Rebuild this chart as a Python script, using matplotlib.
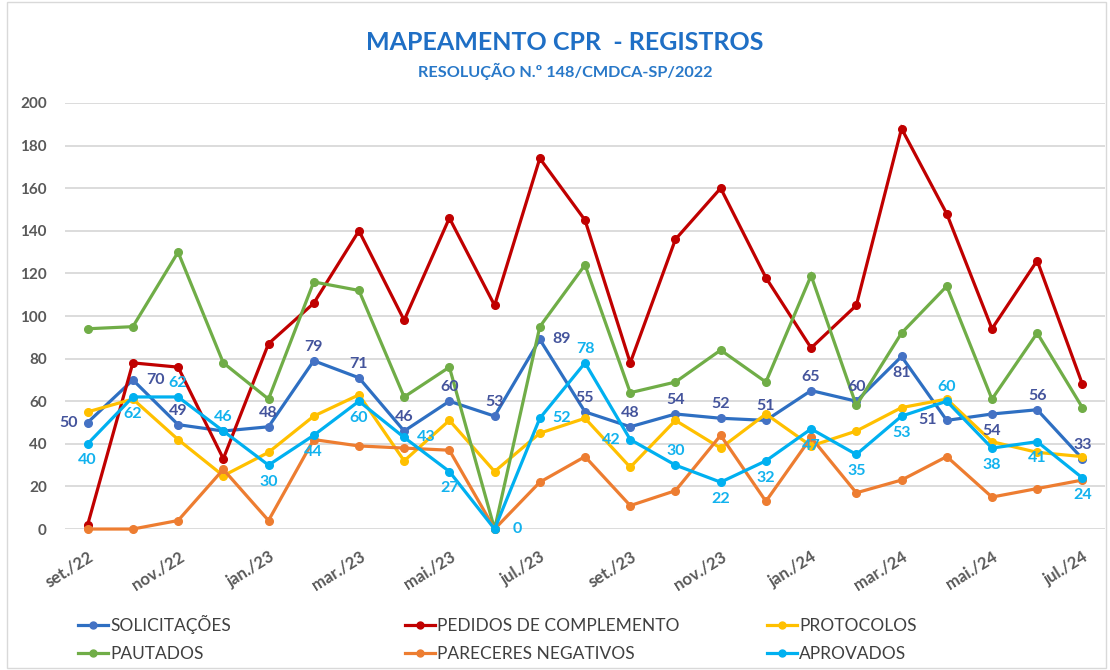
import matplotlib
matplotlib.use("Agg")
import matplotlib.pyplot as plt
from matplotlib.lines import Line2D
from matplotlib.patches import Rectangle

plt.rcParams['font.family'] = ['Lato', 'DejaVu Sans']

meses = ["set./22", "out./22", "nov./22", "dez./22", "jan./23", "fev./23", "mar./23",
         "abr./23", "mai./23", "jun./23", "jul./23", "ago./23", "set./23", "out./23",
         "nov./23", "dez./23", "jan./24", "fev./24", "mar./24", "abr./24", "mai./24",
         "jun./24", "jul./24"]

solicitacoes = [50, 70, 49, 46, 48, 79, 71, 46, 60, 53, 89, 55, 48, 54, 52, 51, 65, 60, 81, 51, 54, 56, 33]
pedidos = [2, 78, 76, 33, 87, 106, 140, 98, 146, 105, 174, 145, 78, 136, 160, 118, 85, 105, 188, 148, 94, 126, 68]
protocolos = [55, 61, 42, 25, 36, 53, 63, 32, 51, 27, 45, 52, 29, 51, 38, 54, 39, 46, 57, 61, 41, 36, 34]
pautados = [94, 95, 130, 78, 61, 116, 112, 62, 76, 0, 95, 124, 64, 69, 84, 69, 119, 58, 92, 114, 61, 92, 57]
pareceres = [0, 0, 4, 28, 4, 42, 39, 38, 37, 0, 22, 34, 11, 18, 44, 13, 43, 17, 23, 34, 15, 19, 23]
aprovados = [40, 62, 62, 46, 30, 44, 60, 43, 27, 0, 52, 78, 42, 30, 22, 32, 47, 35, 53, 60, 38, 41, 24]

# where each data label sits: a=above, b=below, l=left, r=right, None=hidden
pos_solic = ['l', 'r', 'a', None, 'a', 'a', 'a', 'a', 'a', 'a', 'r', 'a', 'a', 'a', 'a', 'a',
             'a', 'a', 'b', 'l', 'b', 'a', 'a']
pos_aprov = ['b', 'b', 'a', 'a', 'b', 'b', 'b', 'r', 'b', 'r', 'r', 'a', 'l', 'a', 'b', 'b',
             'b', 'b', 'b', 'a', 'b', 'b', 'b']

C_SOL = '#2E6FC2'
C_PED = '#C00000'
C_PRO = '#FFC000'
C_PAU = '#70AD47'
C_PAR = '#ED7D31'
C_APR = '#00B0F0'

W, H = 1110, 670
fig = plt.figure(figsize=(W / 100, H / 100), dpi=100)
ax = fig.add_axes([0.0586, 0.2104, 0.9369, 0.6359])

x = list(range(len(meses)))
series = [
    ("SOLICITAÇÕES", solicitacoes, C_SOL, '#4472C4'),
    ("PEDIDOS DE COMPLEMENTO", pedidos, C_PED, C_PED),
    ("PROTOCOLOS", protocolos, C_PRO, C_PRO),
    ("PAUTADOS", pautados, C_PAU, C_PAU),
    ("PARECERES NEGATIVOS", pareceres, C_PAR, C_PAR),
    ("APROVADOS", aprovados, C_APR, C_APR),
]
for name, vals, col, mcol in series:
    ax.plot(x, vals, color=col, lw=2.3, marker='o', ms=5.5, mfc=mcol, mec=mcol,
            clip_on=False, zorder=3, solid_joinstyle='miter')

offs = {'a': (0, 10), 'b': (0, -12), 'l': (-14, 0), 'r': (16, 0)}


def put_labels(vals, where, color):
    for i, v in enumerate(vals):
        p = where[i]
        if p is None:
            continue
        dx, dy = offs[p]
        ax.annotate(str(v), (i, v), xytext=(dx, dy), textcoords='offset points',
                    ha='center', va='center', fontsize=11.5, fontweight='bold',
                    color=color, zorder=5)


put_labels(solicitacoes, pos_solic, '#44549C')
put_labels(aprovados, pos_aprov, '#12B2EE')

ax.set_xlim(-0.5, len(meses) - 0.5)
ax.set_ylim(0, 200)
ax.set_yticks(range(0, 201, 20))
ax.grid(axis='y', color='#D9D9D9', lw=1.3)
ax.set_axisbelow(True)
for s in ax.spines.values():
    s.set_visible(False)
ax.tick_params(length=0)
ax.tick_params(axis='y', pad=13, labelsize=11, labelcolor='#595959')
ax.tick_params(axis='x', pad=14, labelcolor='#595959')
ax.set_xticks(x[::2])
ax.set_xticklabels(meses[::2])
for lab in ax.get_yticklabels():
    lab.set_fontweight('bold')
for lab in ax.get_xticklabels():
    lab.set_fontweight('bold')
    lab.set_fontsize(12)
    lab.set_rotation(32)
    lab.set_ha('right')
    lab.set_rotation_mode('anchor')

fig.text(0.509, 0.937, "MAPEAMENTO CPR  - REGISTROS", ha='center', va='center',
         fontsize=18, fontweight='bold', color='#1F6FC5')
fig.text(0.509, 0.894, "RESOLUÇÃO N.º 148/CMDCA-SP/2022", ha='center', va='center',
         fontsize=11.7, fontweight='bold', color='#2878C8')

# legend drawn by hand: three columns, two rows, row-major like the original
leg_cols = [78, 405, 767]
leg_rows = [625, 653]
for k, (name, vals, col, mcol) in enumerate(series):
    x0 = leg_cols[k % 3]
    y0 = leg_rows[k // 3]
    yf = 1 - y0 / H
    fig.add_artist(Line2D([x0 / W, (x0 + 30) / W], [yf, yf], color=col, lw=2.3,
                          transform=fig.transFigure))
    fig.add_artist(Line2D([(x0 + 15) / W], [yf], marker='o', ms=5, mfc=mcol, mec=mcol,
                          transform=fig.transFigure))
    fig.text((x0 + 32) / W, 1 - (y0 + 6) / H, name, ha='left', va='baseline',
             fontsize=12.5, color='#404040')

fig.patches.append(Rectangle((0.006, 0.003), 0.99, 0.994, transform=fig.transFigure,
                             fill=False, ec='#D9D9D9', lw=1))

fig.savefig("out.png", dpi=100)
